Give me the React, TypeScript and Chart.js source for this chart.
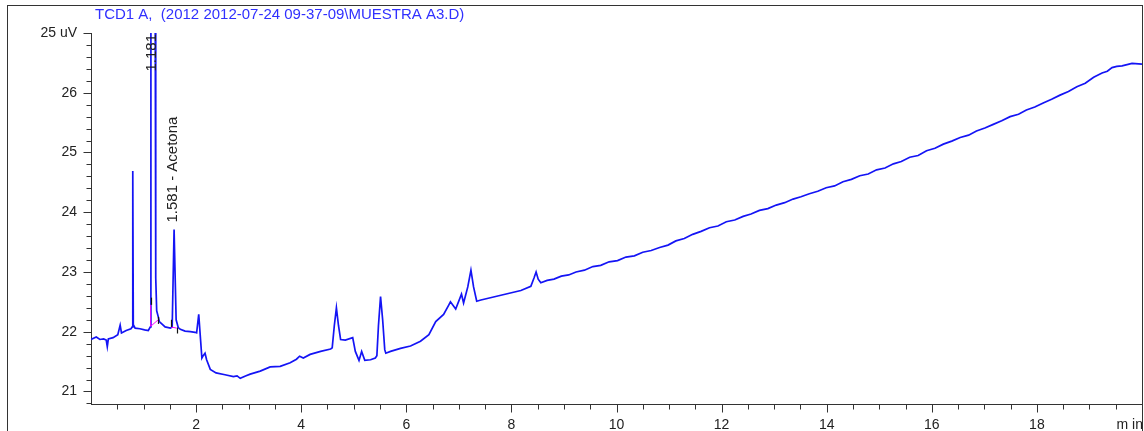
import React, { useEffect, useRef } from "react";
import { Chart, registerables } from "chart.js";

Chart.register(...registerables);

const TITLE = "TCD1 A,  (2012 2012-07-24 09-37-09\\MUESTRA A3.D)";
const Y_TOP_LABEL = "25 uV";
const X_UNIT_LABEL = "m in";

const timeMin = [
  0.0, 0.1, 0.17, 0.24, 0.29, 0.31, 0.33, 0.42, 0.51, 0.555, 0.58, 0.67, 0.76, 0.785, 0.795, 0.805, 0.84, 0.93,
  1.02, 1.09, 1.13, 1.14, 1.181, 1.222, 1.232, 1.25, 1.283, 1.3, 1.41, 1.51, 1.545, 1.581, 1.62, 1.66, 1.7, 1.79,
  1.89, 1.98, 2.01, 2.05, 2.11, 2.135, 2.17, 2.2, 2.27, 2.38, 2.55, 2.71, 2.78, 2.84, 2.94, 3.03, 3.22, 3.41, 3.6,
  3.79, 3.91, 3.97, 4.04, 4.17, 4.37, 4.56, 4.59, 4.63, 4.67, 4.71, 4.75, 4.84, 4.98, 5.03, 5.1, 5.15, 5.21, 5.32,
  5.41, 5.44, 5.47, 5.51, 5.55, 5.59, 5.61, 5.7, 5.89, 6.08, 6.27, 6.43, 6.56, 6.71, 6.81, 6.84, 6.94, 7.05, 7.09,
  7.17, 7.23, 7.28, 7.34, 7.42, 7.8, 8.18, 8.37, 8.43, 8.47, 8.51, 8.56, 8.68, 8.81, 8.95, 9.09, 9.23, 9.39, 9.55,
  9.7, 9.86, 10.02, 10.18, 10.34, 10.5, 10.66, 10.82, 10.98, 11.13, 11.29, 11.45, 11.61, 11.77, 11.93, 12.09,
  12.25, 12.41, 12.56, 12.72, 12.88, 13.04, 13.2, 13.36, 13.51, 13.67, 13.83, 13.99, 14.15, 14.31, 14.47, 14.63,
  14.79, 14.95, 15.11, 15.27, 15.42, 15.58, 15.74, 15.9, 16.06, 16.22, 16.38, 16.54, 16.7, 16.85, 17.01, 17.17,
  17.33, 17.49, 17.65, 17.8, 17.96, 18.12, 18.28, 18.44, 18.6, 18.76, 18.92, 19.08, 19.24, 19.34, 19.43, 19.52,
  19.62, 19.81, 20.0,
];

const signal = [
  21.87, 21.91, 21.87, 21.88, 21.86, 21.75, 21.88, 21.9, 21.95, 22.11, 21.98, 22.02, 22.05, 22.08, 24.69, 22.12,
  22.06, 22.05, 22.03, 22.02, 22.08, 27.4, 29.0, 27.4, 22.9, 22.35, 22.24, 22.17, 22.08, 22.06, 22.08, 23.71, 22.2,
  22.07, 22.04, 22.01, 22.0, 21.99, 21.98, 22.29, 21.56, 21.6, 21.64, 21.53, 21.37, 21.31, 21.28, 21.25, 21.26,
  21.22, 21.26, 21.29, 21.34, 21.41, 21.42, 21.48, 21.54, 21.59, 21.56, 21.62, 21.67, 21.71, 21.73, 22.1, 22.4,
  22.1, 21.87, 21.86, 21.9, 21.67, 21.52, 21.67, 21.52, 21.53, 21.56, 21.6, 22.1, 22.59, 22.2, 21.7, 21.64, 21.67,
  21.72, 21.76, 21.84, 21.95, 22.17, 22.29, 22.45, 22.5, 22.38, 22.63, 22.48, 22.75, 23.03, 22.75, 22.51, 22.53,
  22.61, 22.69, 22.76, 22.9, 23.0, 22.88, 22.82, 22.86, 22.88, 22.93, 22.95, 23.0, 23.03, 23.09, 23.11, 23.17,
  23.19, 23.25, 23.27, 23.33, 23.36, 23.41, 23.45, 23.52, 23.56, 23.63, 23.68, 23.74, 23.77, 23.84, 23.87, 23.93,
  23.97, 24.03, 24.06, 24.12, 24.16, 24.22, 24.26, 24.31, 24.35, 24.41, 24.44, 24.51, 24.55, 24.61, 24.64, 24.71,
  24.74, 24.81, 24.85, 24.92, 24.95, 25.03, 25.07, 25.14, 25.19, 25.25, 25.29, 25.36, 25.41, 25.47, 25.53, 25.6,
  25.64, 25.71, 25.76, 25.83, 25.89, 25.96, 26.02, 26.1, 26.16, 26.26, 26.33, 26.36, 26.42, 26.44, 26.45, 26.49,
  26.48,
];

// Peak annotations
const peakTimes = [1.181, 1.581];
const peakTexts = ["1.181", "1.581 - Acetona"];

// Integration baselines (magenta)
const baselineTimes = [
  [1.135, 1.135, 1.28],
  [1.52, 1.63],
];
const baselineValues = [
  [22.45, 22.09, 22.2],
  [22.08, 22.06],
];

// Peak start/end markers (black)
const markerTimes = [1.135, 1.28, 1.52, 1.63];
const markerFrom = [22.57, 22.25, 22.2, 22.07];
const markerTo = [22.45, 22.13, 22.08, 21.97];

const X_MIN = 0;
const X_MAX = 20;
const Y_MIN = 20.79;
const Y_MAX = 27;

const FONT = "'Liberation Sans', Arial, Helvetica, sans-serif";
const AXIS_COLOR = "#333333";
const TEXT_COLOR = "#222222";
const TRACE_COLOR = "rgb(20,20,245)";
const TITLE_COLOR = "#3030ff";

const isInt = (v: number) => Math.abs(v - Math.round(v)) < 1e-6;

const annotationPlugin = {
  id: "chromAnnotations",
  afterDatasetsDraw(chart: any) {
    const { ctx, scales, chartArea } = chart;
    const xs = scales.x;
    const ys = scales.y;
    ctx.save();
    ctx.beginPath();
    ctx.rect(chartArea.left, chartArea.top, chartArea.right - chartArea.left, chartArea.bottom - chartArea.top);
    ctx.clip();
    ctx.strokeStyle = "#ff00ff";
    ctx.lineWidth = 1;
    baselineTimes.forEach((ts, i) => {
      ctx.beginPath();
      ts.forEach((t, j) => {
        const px = xs.getPixelForValue(t);
        const py = ys.getPixelForValue(baselineValues[i][j]);
        if (j === 0) ctx.moveTo(px, py);
        else ctx.lineTo(px, py);
      });
      ctx.stroke();
    });
    ctx.strokeStyle = "#111111";
    ctx.lineWidth = 1.2;
    markerTimes.forEach((t, i) => {
      const px = Math.round(xs.getPixelForValue(t)) + 0.5;
      ctx.beginPath();
      ctx.moveTo(px, ys.getPixelForValue(markerFrom[i]));
      ctx.lineTo(px, ys.getPixelForValue(markerTo[i]));
      ctx.stroke();
    });
    ctx.restore();

    ctx.save();
    ctx.font = `15px ${FONT}`;
    ctx.fillStyle = TEXT_COLOR;
    ctx.textAlign = "left";
    ctx.textBaseline = "middle";
    peakTimes.forEach((t, i) => {
      let apex = -Infinity;
      timeMin.forEach((tm, k) => {
        if (Math.abs(tm - t) < 0.03 && signal[k] > apex) apex = signal[k];
      });
      const w = ctx.measureText(peakTexts[i]).width;
      const apexPx = ys.getPixelForValue(apex);
      const bottom = Math.max(apexPx - 7, chartArea.top + w + 1);
      const px = xs.getPixelForValue(t) - 1;
      ctx.save();
      ctx.translate(px, bottom);
      ctx.rotate(-Math.PI / 2);
      ctx.fillText(peakTexts[i], 0, 0);
      ctx.restore();
    });
    ctx.restore();
  },
  afterDraw(chart: any) {
    const { ctx, scales, chartArea } = chart;
    const xs = scales.x;
    const ys = scales.y;
    ctx.save();
    ctx.strokeStyle = AXIS_COLOR;
    ctx.lineWidth = 1;
    const left = Math.round(chartArea.left) + 0.5;
    ys.ticks.forEach((tk: any) => {
      const len = isInt(tk.value) ? 8 : 5;
      const py = Math.round(ys.getPixelForValue(tk.value)) + 0.5;
      ctx.beginPath();
      ctx.moveTo(left - len, py);
      ctx.lineTo(left, py);
      ctx.stroke();
    });
    const bottom = Math.round(chartArea.bottom) + 0.5;
    xs.ticks.forEach((tk: any) => {
      const v = tk.value;
      if (v <= X_MIN + 1e-6) return;
      const major = isInt(v / 2);
      const len = major ? 8 : 5;
      const px = Math.round(xs.getPixelForValue(v)) + 0.5;
      ctx.beginPath();
      ctx.moveTo(px, bottom);
      ctx.lineTo(px, bottom + len);
      ctx.stroke();
    });
    ctx.font = `14px ${FONT}`;
    ctx.fillStyle = TEXT_COLOR;
    ctx.textAlign = "right";
    ctx.textBaseline = "alphabetic";
    ctx.fillText(X_UNIT_LABEL, xs.getPixelForValue(X_MAX) + 1, 429);
    ctx.strokeStyle = "#333333";
    ctx.lineWidth = 1;
    ctx.strokeRect(7.5, 5.5, Math.round(xs.getPixelForValue(X_MAX)) - 7, 500);
    ctx.font = `15px ${FONT}`;
    ctx.fillStyle = TITLE_COLOR;
    ctx.textAlign = "left";
    ctx.fillText(TITLE, 95, 19);
    ctx.restore();
  },
};

export default function App() {
  const canvasRef = useRef<HTMLCanvasElement | null>(null);

  useEffect(() => {
    const canvas = canvasRef.current;
    if (!canvas) return;
    const data = timeMin.map((t, i) => ({ x: t, y: signal[i] }));
    const chart = new Chart(canvas, {
      type: "line",
      data: {
        datasets: [
          {
            data,
            borderColor: TRACE_COLOR,
            borderWidth: 1.7,
            pointRadius: 0,
            tension: 0,
            fill: false,
          },
        ],
      },
      options: {
        animation: false,
        responsive: false,
        devicePixelRatio: 1,
        events: [],
        layout: { padding: { left: 0, top: 33, right: 2, bottom: 0 } },
        plugins: {
          legend: { display: false },
          tooltip: { enabled: false },
          title: { display: false },
        },
        scales: {
          x: {
            type: "linear",
            min: X_MIN,
            max: X_MAX,
            grid: { display: true, drawOnChartArea: false, drawTicks: false },
            border: { display: true, color: AXIS_COLOR, width: 1 },
            ticks: {
              stepSize: 0.5,
              includeBounds: false,
              autoSkip: false,
              maxRotation: 0,
              padding: 13,
              color: TEXT_COLOR,
              font: { size: 14, family: FONT },
              callback: (v: any) => {
                const n = Number(v);
                if (n > 0 && n < X_MAX - 1e-6 && isInt(n / 2)) return String(Math.round(n));
                return "";
              },
            },
            afterFit: (scale: any) => {
              scale.height = 27;
              scale.paddingLeft = 0;
              scale.paddingRight = 0;
            },
          },
          y: {
            type: "linear",
            min: Y_MIN,
            max: Y_MAX,
            grid: { display: true, drawOnChartArea: false, drawTicks: false },
            border: { display: true, color: AXIS_COLOR, width: 1 },
            ticks: {
              stepSize: 0.2,
              includeBounds: false,
              autoSkip: false,
              padding: 14,
              color: TEXT_COLOR,
              font: { size: 14, family: FONT },
              callback: (v: any) => {
                const n = Number(v);
                if (!isInt(n)) return "";
                if (Math.round(n) === Y_MAX) return Y_TOP_LABEL;
                return String(Math.round(n));
              },
            },
            afterFit: (scale: any) => {
              scale.width = 91;
              scale.paddingTop = 0;
              scale.paddingBottom = 0;
            },
          },
        },
      },
      plugins: [annotationPlugin],
    });
    return () => chart.destroy();
  }, []);

  return (
    <div style={{ position: "absolute", left: 0, top: 0, width: 1144, height: 431, background: "#fff" }}>
      <canvas ref={canvasRef} width={1144} height={431} style={{ width: 1144, height: 431, display: "block" }} />
    </div>
  );
}
